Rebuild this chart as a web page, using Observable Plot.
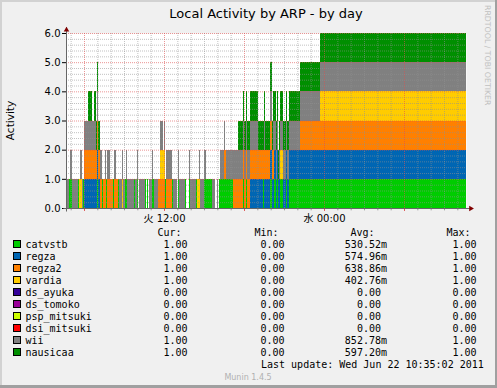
<!DOCTYPE html>
<html><head><meta charset="utf-8">
<script src="https://cdn.jsdelivr.net/npm/d3@7"></script>
<script src="https://cdn.jsdelivr.net/npm/@observablehq/plot@0.6"></script>
<style>
html,body{margin:0;padding:0;background:#F0F0F0;}
#wrap{position:relative;width:497px;height:388px;background:#F0F0F0;overflow:hidden;}
#wrap svg{position:absolute;left:0;top:0;}
</style></head><body><div id="wrap"></div>
<script>
// ---- data ----
const names = ["catvstb","regza","regza2","vardia","ds_ayuka","ds_tomoko","psp_mitsuki","dsi_mitsuki","wii","nausicaa"];
const colors = ["#00CC00","#0066B3","#FF8000","#FFCC00","#330099","#990099","#CCFF00","#FF0000","#808080","#008F00"];
const curVals = ["1.00","1.00","1.00","1.00","0.00","0.00","0.00","0.00","1.00","1.00"];
const minVals = ["0.00","0.00","0.00","0.00","0.00","0.00","0.00","0.00","0.00","0.00"];
const avgVals = ["530.52m","574.96m","638.86m","402.76m","0.00","0.00","0.00","0.00","852.78m","597.20m"];
const maxVals = ["1.00","1.00","1.00","1.00","0.00","0.00","0.00","0.00","1.00","1.00"];

// "on" (value 1) ranges, in 5-minute steps (inclusive); step 0 = Tue 04:39
const catvstb = [[3,4],[11,11],[15,15],[28,28],[32,32],[36,36],[42,42],[47,47],[53,54],[61,61],[64,64],[71,71],[73,73],[77,78],[89,89],[95,95],[101,101],[107,107],[111,111],[117,117],[124,130],[138,149],[159,159],[162,162],[177,177],[184,184],[187,188],[190,190],[193,194],[198,198],[201,359]];
const regza = [[16,30],[166,176],[178,192],[195,359]];
const regza2 = [[16,31],[33,35],[37,41],[43,46],[83,88],[90,94],[142,143],[150,186],[211,359]];
const vardia = [[12,13],[50,50],[85,88],[118,120],[193,194],[229,359]];
const ds_ayuka = [];
const ds_tomoko = [];
const psp_mitsuki = [];
const dsi_mitsuki = [];
const wii = [[0,2],[4,10],[13,14],[16,26],[28,28],[31,31],[35,35],[37,39],[43,44],[48,52],[54,60],[62,64],[66,70],[75,77],[79,82],[85,86],[88,88],[90,94],[96,99],[101,106],[111,116],[120,125],[131,133],[136,136],[139,142],[144,172],[178,178],[184,184],[186,190],[192,359]];
const nausicaa = [[20,22],[25,30],[155,359]];

const startHour = 4.65;      // Tue 04:39 (hours since Tue 00:00)
const nSteps = 360;          // 30 hours of 5-minute steps
const stepHours = 5 / 60;
const endHour = startHour + nSteps * stepHours;
const xTicks = [12, 24];
const xTickLabels = ["火 12:00", "水 00:00"];
const yTicks = [0, 1, 2, 3, 4, 5, 6];

// ---- build table ----
const seriesRanges = [catvstb, regza, regza2, vardia, ds_ayuka, ds_tomoko, psp_mitsuki, dsi_mitsuki, wii, nausicaa];
const rows = [];
names.forEach((name, k) => {
  for (const [a, b] of seriesRanges[k]) {
    for (let i = a; i <= b; i++) {
      rows.push({series: name, x1: startHour + i * stepHours, x2: startHour + (i + 1) * stepHours, v: 1});
    }
  }
});

const minorHours = d3.range(5, 35).filter(h => h % 6 !== 0);
const majorHours = [6, 12, 18, 24, 30];
const minorY = d3.range(1, 30).filter(i => i % 5 !== 0).map(i => i / 5);
const majorY = [1, 2, 3, 4, 5, 6];

const font = "'DejaVu Sans', 'Noto Sans CJK JP', sans-serif";
const mono = "'DejaVu Sans Mono', monospace";

const chart = Plot.plot({
  width: 497, height: 226,
  marginLeft: 66, marginRight: 31, marginTop: 33, marginBottom: 18,
  style: {background: "transparent", fontFamily: font, fontSize: "10px", color: "black", overflow: "visible"},
  x: {domain: [startHour, endHour], ticks: xTicks, tickFormat: d => xTickLabels[xTicks.indexOf(d)], tickSize: 0, tickPadding: 6, label: null},
  y: {domain: [0, 6], ticks: yTicks, tickFormat: d => d.toFixed(1), tickSize: 4, tickPadding: 2, label: null},
  color: {domain: names, range: colors},
  marks: [
    Plot.frame({fill: "white", stroke: "none"}),
    Plot.rectY(rows, {x1: "x1", x2: "x2", y: "v", fill: "series", order: names, shapeRendering: "crispEdges"}),
    Plot.ruleX(minorHours, {stroke: "#8F8F8F", strokeOpacity: 0.55, strokeDasharray: "1,1"}),
    Plot.ruleY(minorY, {stroke: "#8F8F8F", strokeOpacity: 0.55, strokeDasharray: "1,1"}),
    Plot.ruleX(majorHours, {stroke: "#DE5050", strokeOpacity: 0.6, strokeDasharray: "1,1"}),
    Plot.ruleY(majorY, {stroke: "#DE5050", strokeOpacity: 0.6, strokeDasharray: "1,1"}),
    Plot.ruleX(minorHours, {y1: 0, y2: -0.08, stroke: "#999"}),
    Plot.ruleX(majorHours, {y1: 0, y2: -0.1, stroke: "#DE5050"}),
    Plot.ruleX([startHour], {y1: -0.12, y2: 6.2, stroke: "#666"}),
    Plot.ruleY([0], {x1: startHour - 0.2, x2: endHour + 0.3, stroke: "#666"}),
    Plot.dot([startHour], {x: d => d, y: () => 6.124, symbol: "triangle", r: 2.05, fill: "#800000", stroke: "none"}),
    Plot.dot([endHour], {x: d => d + 0.32, y: () => 0, symbol: "triangle", rotate: 90, r: 2.05, fill: "#800000", stroke: "none"})
  ]
});

const wrap = document.getElementById("wrap");
wrap.appendChild(chart);

// ---- overlay: title, labels, legend ----
const ov = d3.create("svg").attr("width", 497).attr("height", 388);
ov.append("rect").attr("x", 0).attr("y", 0).attr("width", 497).attr("height", 2).attr("fill", "#D2D2D2");
ov.append("rect").attr("x", 0).attr("y", 0).attr("width", 2).attr("height", 388).attr("fill", "#D2D2D2");
ov.append("rect").attr("x", 495).attr("y", 0).attr("width", 2).attr("height", 388).attr("fill", "#A0A0A0");
ov.append("rect").attr("x", 0).attr("y", 385).attr("width", 497).attr("height", 3).attr("fill", "#A0A0A0");

ov.append("text").attr("x", 266).attr("y", 18).attr("text-anchor", "middle")
  .style("font-family", font).style("font-size", "13px").text("Local Activity by ARP - by day");
ov.append("text").attr("transform", "translate(14,120.5) rotate(-90)").attr("text-anchor", "middle")
  .style("font-family", font).style("font-size", "10.5px").text("Activity");
ov.append("text").attr("transform", "translate(485,5) rotate(90)")
  .style("font-family", font).style("font-size", "7.8px").attr("fill", "#C0C0C0").text("RRDTOOL / TOBI OETIKER");

const mtext = (x, y, s, anchor = "start") => ov.append("text").attr("x", x).attr("y", y).attr("text-anchor", anchor)
  .style("font-family", mono).style("font-size", "10px").text(s);

mtext(157.5, 236, "Cur:");
mtext(254.5, 236, "Min:");
mtext(350.5, 236, "Avg:");
mtext(446.5, 236, "Max:");
names.forEach((name, k) => {
  const y = 248 + 12 * k;
  ov.append("rect").attr("x", 13.5).attr("y", y - 7.5).attr("width", 7).attr("height", 7)
    .attr("fill", colors[k]).attr("stroke", "black").attr("stroke-width", 1);
  mtext(25.5, y, name);
  mtext(163.5, y, curVals[k]);
  mtext(260.5, y, minVals[k]);
  const a = avgVals[k];
  mtext(a.endsWith("m") ? 387 : 381, y, a, "end");
  mtext(452.5, y, maxVals[k]);
});
mtext(261, 368, "Last update: Wed Jun 22 10:35:02 2011");
ov.append("text").attr("x", 248).attr("y", 380).attr("text-anchor", "middle")
  .style("font-family", font).style("font-size", "8px").attr("fill", "#B0B0B0").text("Munin 1.4.5");

wrap.appendChild(ov.node());
</script></body></html>
